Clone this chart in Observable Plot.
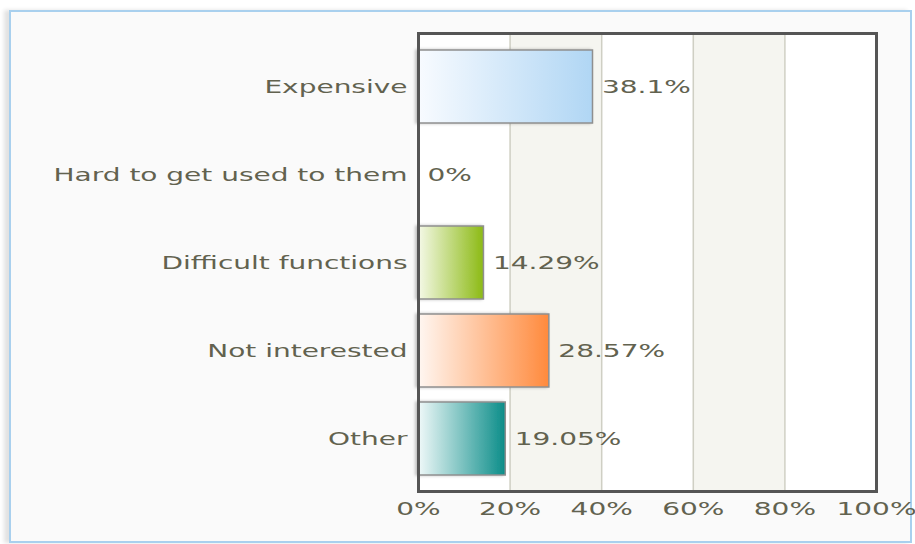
<!DOCTYPE html>
<html>
<head>
<meta charset="utf-8">
<script src="https://cdn.jsdelivr.net/npm/d3@7"></script>
<script src="https://cdn.jsdelivr.net/npm/@observablehq/plot@0.6"></script>
<style>
  html, body { margin: 0; padding: 0; background: #ffffff; }
  #wrap { position: relative; width: 915px; height: 544px; overflow: hidden; background: #fff; }
  #panel { position: absolute; left: 9px; top: 10px; width: 899px; height: 529px;
           border: 2px solid #a9d0ee; background: #fafafa; box-shadow: -5px 0 4px #e2e2e2; }
  #chart { position: absolute; left: 0; top: 0; }
</style>
</head>
<body>
<div id="wrap"><div id="panel"></div><div id="chart"></div></div>
<script>
const categories = ["Expensive", "Hard to get used to them", "Difficult functions", "Not interested", "Other"];
const values = [38.1, 0, 14.29, 28.57, 19.05];
const valueLabels = ["38.1%", "0%", "14.29%", "28.57%", "19.05%"];
const barColors = ["#b0d6f4", "#b0d6f4", "#8cba14", "#ff8a3d", "#0b8d89"];
const barStartColors = ["#f8fbff", "#f8fbff", "#f5f9e8", "#fff7f2", "#f0f9f9"];
const xTicks = [0, 20, 40, 60, 80, 100];
const shadedBands = [[20, 40], [60, 80]];

const data = categories.map((c, i) => ({
  category: c, value: values[i], label: valueLabels[i], grad: `url(#grad${i})`
}));
const bands = shadedBands.map(([a, b]) => ({a, b}));

const FONT = 17.5;
const TEXT = "#62624f";

const plot = Plot.plot({
  width: 915,
  height: 544,
  marginLeft: 418,
  marginRight: 39,
  marginTop: 33,
  marginBottom: 53,
  style: {background: "transparent", fontFamily: "DejaVu Sans", fontSize: FONT + "px", color: TEXT},
  x: {domain: [0, 100], ticks: xTicks, label: null},
  y: {domain: categories, paddingInner: 0.17, paddingOuter: 0.085, insetTop: 9, insetBottom: 7, label: null},
  color: {type: "identity"},
  marks: [
    Plot.frame({fill: "#ffffff", stroke: null}),
    Plot.rectX(bands, {x1: "a", x2: "b", fill: "#f5f5f0"}),
    Plot.ruleX(xTicks.filter(t => t > 0 && t < 100), {stroke: "#cfcfc4", strokeWidth: 1.5}),
    Plot.barX(data, {x: "value", y: "category", fill: "grad", stroke: "#8f8f8f", strokeWidth: 1.5}),
    Plot.text(data, {x: "value", y: "category", text: "label", textAnchor: "start", dx: 9, fill: TEXT, fontSize: FONT}),
    Plot.frame({stroke: "#555555", strokeWidth: 3}),
    Plot.axisX({ticks: xTicks, tickFormat: d => d + "%", tickSize: 0, tickPadding: 11, fill: TEXT, fontSize: FONT, label: null}),
    Plot.axisY({tickSize: 0, tickPadding: 11, fill: TEXT, fontSize: FONT, label: null})
  ]
});

// gradients + shadow filter
const svg = d3.select(plot);
const defs = svg.insert("defs", ":first-child");
barColors.forEach((c, i) => {
  const g = defs.append("linearGradient").attr("id", "grad" + i)
    .attr("x1", 0).attr("x2", 1).attr("y1", 0).attr("y2", 0);
  g.append("stop").attr("offset", 0).attr("stop-color", barStartColors[i]);
  g.append("stop").attr("offset", 1).attr("stop-color", c);
});
const f = defs.append("filter").attr("id", "barShadow").attr("x", "-10%").attr("y", "-10%").attr("width", "120%").attr("height", "120%");
f.append("feDropShadow").attr("dx", -2).attr("dy", 0).attr("stdDeviation", 1.5).attr("flood-color", "#000").attr("flood-opacity", 0.25);
svg.selectAll("g[aria-label='bar'] rect").attr("filter", "url(#barShadow)");

// horizontally widened lettering as in the reference
svg.selectAll("text").each(function() {
  const t = d3.select(this);
  const tr = t.attr("transform") || "";
  t.attr("transform", tr + " scale(1.6,1)");
});

document.getElementById("chart").appendChild(plot);
</script>
</body>
</html>
